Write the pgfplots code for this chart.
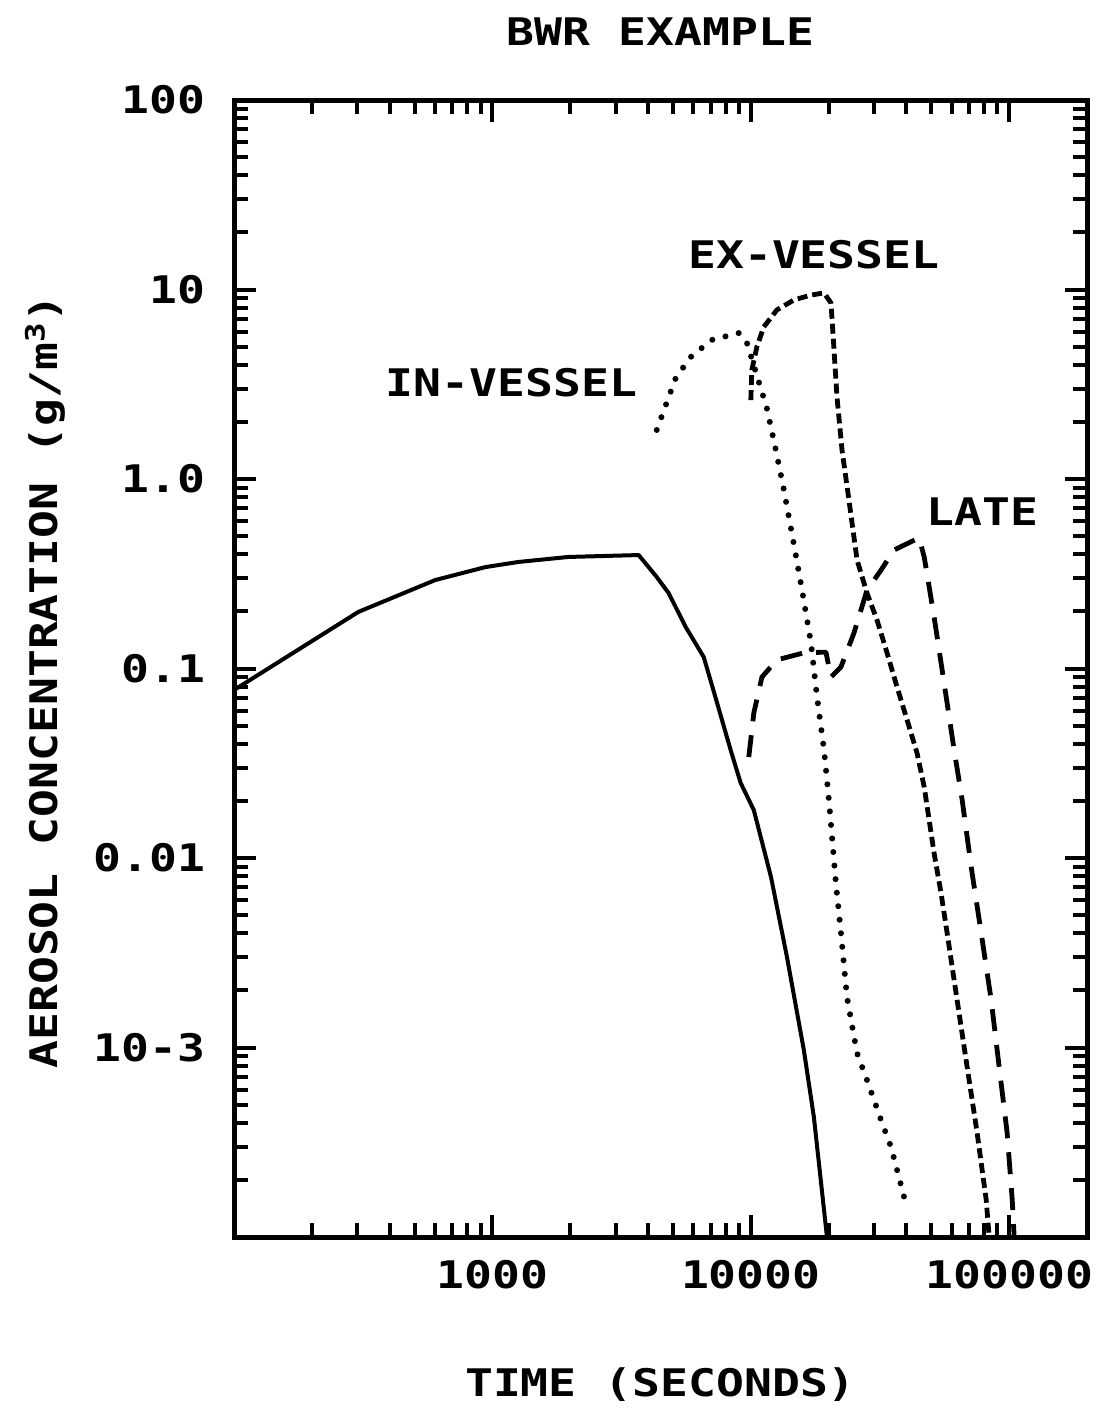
\documentclass[border=0pt]{standalone}
\usepackage{pgfplots}
\pgfplotsset{compat=1.18}
\usepackage{fontspec}
\setmainfont{DejaVu Sans Mono}[FakeStretch=1.22, UprightFont=*-Bold]
\begin{document}
\begin{tikzpicture}[font=\fontsize{19}{22}\selectfont]
\begin{axis}[
    name=ax, at={(0,0)}, anchor=south west,
    scale only axis, width=426.5pt, height=568.5pt,
    xmode=log, ymode=log,
    xmin=100, xmax=200000,
    ymin=1e-4, ymax=100,
    axis line style={line width=2.5pt},
    tick align=inside,
    major tick length=11pt, minor tick length=7pt,
    every tick/.style={black, line width=2pt},
    xtick={100,1000,10000,100000},
    xticklabels={,1000,10000,100000},
    minor xtick={200,300,400,500,600,700,800,900,
        2000,3000,4000,5000,6000,7000,8000,9000,
        20000,30000,40000,50000,60000,70000,80000,90000},
    ytick={0.0001,0.001,0.01,0.1,1,10,100},
    yticklabels={,10-3,0.01,0.1,1.0,10,100},
    minor ytick={0.0002,0.0003,0.0004,0.0005,0.0006,0.0007,0.0008,0.0009,
        0.002,0.003,0.004,0.005,0.006,0.007,0.008,0.009,
        0.02,0.03,0.04,0.05,0.06,0.07,0.08,0.09,
        0.2,0.3,0.4,0.5,0.6,0.7,0.8,0.9,
        2,3,4,5,6,7,8,9,20,30,40,50,60,70,80,90},
    xticklabel style={yshift=-8pt},
    yticklabel style={xshift=-11pt},
]
% base case
\addplot[black, line width=2pt, line join=round] coordinates {
    (100,0.077) (303,0.199) (601,0.293) (940,0.343) (1261,0.365)
    (1972,0.388) (3681,0.397) (4300,0.307) (4808,0.250) (5598,0.1655)
    (6573,0.115) (7400,0.066) (8356,0.0371) (9134,0.0249) (10270,0.0179)
    (11970,0.00794) (13800,0.0030) (16040,9.7e-4) (17540,4.3e-4) (19710,1e-4)
};
% in-vessel
\addplot[black, line width=3pt, line cap=round, dash pattern=on 0pt off 6.8pt] coordinates {
    (4325,1.815) (4688,2.455) (5120,3.41) (5850,4.40) (7058,5.42)
    (8980,5.89) (9640,5.28) (10740,3.25) (11530,2.37) (12500,1.42)
    (13430,0.875) (14690,0.449) (15780,0.260) (17100,0.136)
    (18040,0.0708) (19200,0.0372) (20060,0.0202) (21340,0.00738)
    (22330,0.00402) (23550,0.00185) (25750,9.36e-4) (28160,6.73e-4)
    (31920,4.14e-4) (34910,2.98e-4) (39900,1.48e-4)
};
% ex-vessel
\addplot[black, line width=2.4pt, line join=round, dash pattern=on 5pt off 2.5pt] coordinates {
    (10000,2.61) (10090,3.76) (10550,4.97) (11220,6.34) (12610,7.80)
    (14690,8.81) (17100,9.35) (19200,9.59) (20430,8.49) (20990,4.80)
    (21550,2.71) (22540,1.42) (23970,0.775) (25770,0.374) (28160,0.250)
    (30790,0.180) (33660,0.121) (36810,0.0798) (40250,0.0535)
    (43980,0.0358) (46880,0.0237) (48980,0.0159) (51200,0.0106)
    (54470,0.00653) (57500,0.00402) (62850,0.00178)
    (68730,7.89e-4) (75140,3.54e-4) (81450,1.57e-4) (83620,1e-4)
};
% late
\addplot[black, line width=2.4pt, line join=round, dash pattern=on 11pt off 7pt] coordinates {
    (9820,0.0341) (10270,0.0582) (11040,0.0901) (12610,0.111)
    (16040,0.121) (19530,0.122) (20430,0.0901) (22330,0.102)
    (25070,0.154) (28160,0.259) (31920,0.331) (35830,0.422)
    (44770,0.489) (46880,0.388) (51200,0.187) (55980,0.0838)
    (61200,0.0372) (65770,0.0202) (71260,0.00896) (77900,0.00402)
    (85160,0.00178) (91420,7.89e-4) (98170,3.54e-4) (102700,1.57e-4)
    (104500,1e-4)
};
\node at (axis cs:17540,15.2) {EX-VESSEL};
\node at (axis cs:1185,3.21) {IN-VESSEL};
\node at (axis cs:78530,0.670) {LATE};
\end{axis}
\node at ([yshift=34pt]ax.north) {BWR EXAMPLE};
\node at ([yshift=-74pt]ax.south) {TIME (SECONDS)};
\node[rotate=90] at ([xshift=-94.5pt,yshift=-6.5pt]ax.west) {AEROSOL CONCENTRATION (g/m\textsuperscript{3})};
\path (-117pt,-86.5pt) rectangle (429pt,618.5pt);
\end{tikzpicture}
\end{document}
